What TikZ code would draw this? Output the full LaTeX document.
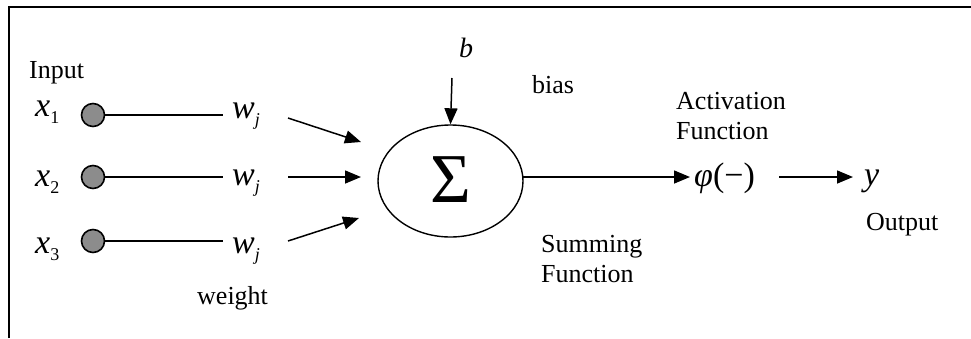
\documentclass[tikz,border=0pt]{standalone}
\usepackage{fontspec}
\setmainfont{Liberation Serif}
\usetikzlibrary{arrows.meta,shapes.geometric}
\newcommand\txtsz{\fontsize{26bp}{30bp}\selectfont}
\newcommand\mathsz{\fontsize{34bp}{38bp}\selectfont}
\newcommand\mysub[1]{\raisebox{-7bp}{\fontsize{18bp}{18bp}\selectfont #1}}
\begin{document}
\begin{tikzpicture}[x=1bp,y=-1bp,
  lbl/.style={anchor=base west,inner sep=0pt,font=\txtsz},
  mth/.style={anchor=base west,inner sep=0pt,font=\mathsz},
  inpt/.style={circle,draw,line width=1.6bp,fill=black!45,minimum size=23bp,inner sep=0pt},
  conn/.style={line width=1.5bp},
  arr/.style={line width=1.5bp,-{Triangle[length=16bp,width=13bp]}},
  frame/.style={line width=2bp}]
\useasboundingbox (0,0) rectangle (971,338);
\draw[frame] (9,338) -- (9,7) -- (971,7);
% labels
\node[lbl] (inp) at (29,78) {Input};
\node[mth] (x1) at (35,116) {\textit{x}\mysub{1}};
\node[mth] (x2) at (35,186) {\textit{x}\mysub{2}};
\node[mth] (x3) at (35,253) {\textit{x}\mysub{3}};
\node[inpt] (c1) at (93,115) {};
\node[inpt] (c2) at (93,177) {};
\node[inpt] (c3) at (93,241) {};
\node[mth] (w1) at (232,118) {\textit{w}\mysub{\textit{j}}};
\node[mth] (w2) at (232,185) {\textit{w}\mysub{\textit{j}}};
\node[mth] (w3) at (232,253) {\textit{w}\mysub{\textit{j}}};
\coordinate (e1) at (223,115);
\coordinate (e2) at (223,177);
\coordinate (e3) at (223,241);
\draw[conn] (c1) -- (e1);
\draw[conn] (c2) -- (e2);
\draw[conn] (c3) -- (e3);
\node[lbl] (wt) at (197,304) {weight};
% arrows into sum
\coordinate (s1) at (288,118);
\coordinate (t1) at (361,142);
\coordinate (s2) at (288,177);
\coordinate (t2) at (361,177);
\coordinate (s3) at (288,241);
\coordinate (t3) at (359,218);
\draw[arr] (s1) -- (t1);
\draw[arr] (s2) -- (t2);
\draw[arr] (s3) -- (t3);
% sum
\node[ellipse,draw,line width=1.4bp,minimum width=145bp,minimum height=112bp,inner sep=0pt,
  font=\fontsize{70bp}{74bp}\selectfont] (sum) at (450.5,181) {\raisebox{3bp}{Σ}};
\node[anchor=base west,inner sep=0pt,font=\fontsize{28bp}{32bp}\selectfont\itshape] (b) at (459,57) {b};
\coordinate (bs) at (452,78);
\draw[arr] (bs) -- (sum.north);
\node[lbl] (bias) at (532,93) {bias};
% output
\coordinate (o1) at (522.5,177);
\coordinate (o2) at (690,177);
\node[mth] (phi) at (694,186) {\textit{φ}(−)};
\draw[arr] (o1) -- (o2);
\coordinate (p1) at (779,177);
\coordinate (p2) at (853,177);
\draw[arr] (p1) -- (p2);
\node[mth] (y) at (864,185) {\textit{y}};
\node[lbl] (act1) at (676,109) {Activation};
\node[lbl] (act2) at (676,139) {Function};
\node[lbl] (out) at (866,230) {Output};
\node[lbl] (sm1) at (541,252) {Summing};
\node[lbl] (sm2) at (541,282) {Function};
\end{tikzpicture}
\end{document}
